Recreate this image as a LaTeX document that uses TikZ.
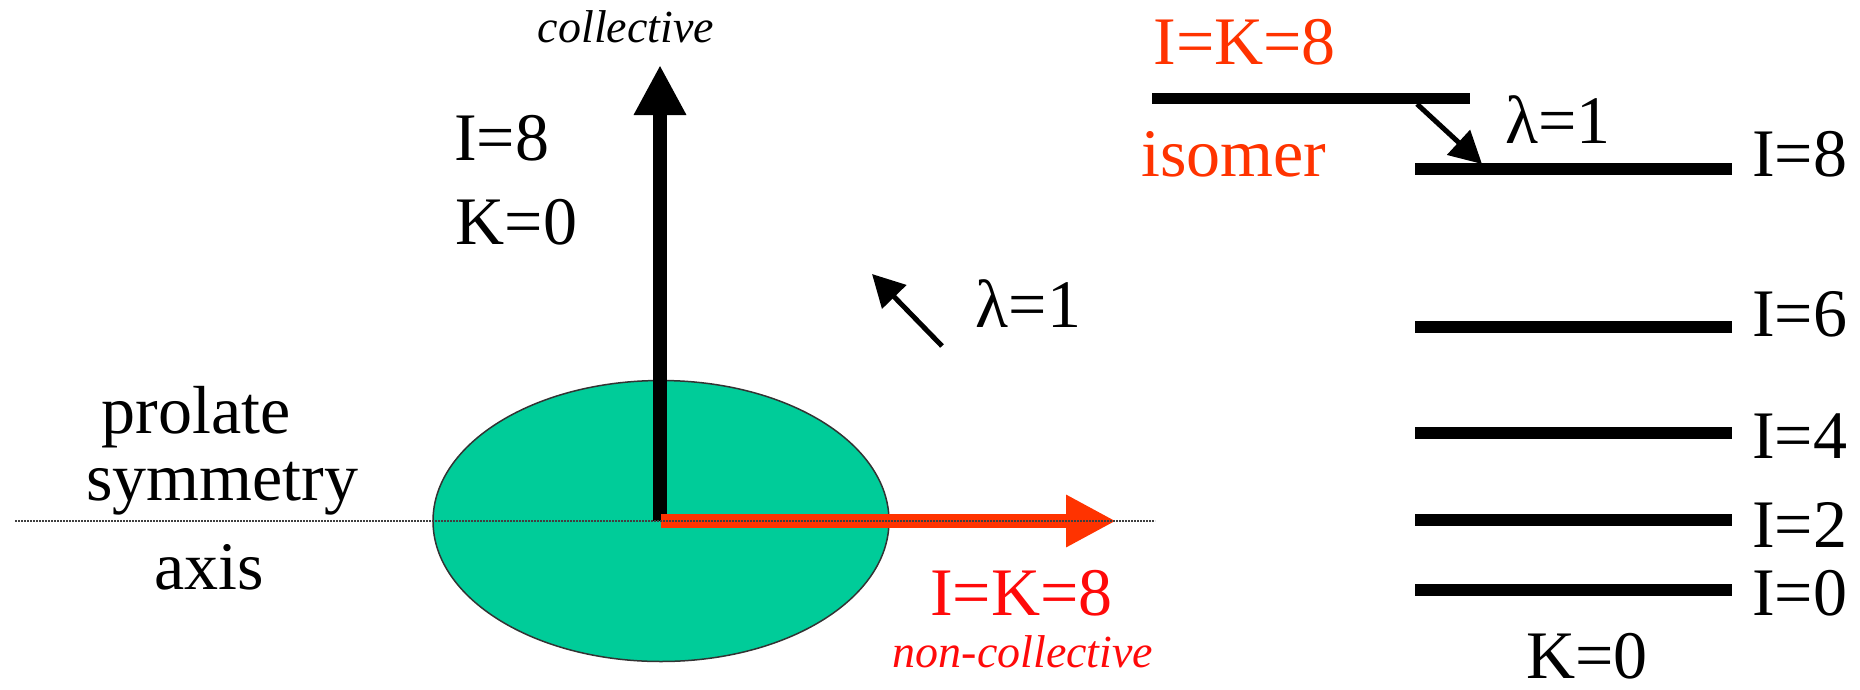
\documentclass[tikz,border=0pt]{standalone}
\usepackage{fontspec}
\setmainfont{Liberation Serif}
\newfontfamily\tnr{Liberation Serif}
\usetikzlibrary{arrows.meta,shapes.geometric}
\definecolor{ellgreen}{HTML}{00CC99}
\definecolor{orred}{HTML}{FF3300}
\definecolor{pured}{HTML}{FF0A0A}
\begin{document}
\begin{tikzpicture}[x=1pt,y=-1pt,
  lbl/.style={font=\tnr\fontsize{68}{72}\selectfont, inner sep=0pt, anchor=base},
  itl/.style={font=\tnr\fontsize{46}{50}\selectfont\itshape, inner sep=0pt, anchor=base},
  lev/.style={line width=11.5pt},
  bigarrow/.style={line width=14pt, -{Triangle[length=50pt,width=49pt]}},
  smallarrow/.style={line width=5pt, -{Triangle[length=32pt,width=33pt]}},
  axisline/.style={line width=1.4pt, black!75, dash pattern=on 1.6pt off 1.4pt}
]
\useasboundingbox (0,0) rectangle (1860,689);

% ellipse (nucleus)
\node[ellipse, draw=black!80, line width=1.5pt, fill=ellgreen,
      minimum width=456pt, minimum height=281pt, inner sep=0pt] (ell) at (661,521) {};

% arrows from the centre
\coordinate (O) at (661,521);
\coordinate (Ob) at (660,521);
\coordinate (vtip) at (660,65);
\coordinate (htip) at (1116,521);
\draw[bigarrow] (Ob) -- (vtip);
\draw[bigarrow, orred] (O) -- (htip);

% dotted symmetry axis
\coordinate (axL) at (15,521);
\coordinate (axR) at (1155,521);
\draw[axisline] (axL) -- (axR);

% small lambda arrow (left)
\coordinate (sa1) at (942,346);
\coordinate (sa2) at (872,274);
\draw[smallarrow] (sa1) -- (sa2);

% left texts
\node[itl] (coll) at (626,42) {collective};
\node[lbl] (i8l) at (501.5,160) {I=8};
\node[lbl] (k0l) at (516.5,244) {K=0};
\node[lbl] (lam1) at (1028.5,327) {λ=1};
\node[lbl] (prol) at (196,433) {prolate};
\node[lbl] (symm) at (222.5,500) {symmetry};
\node[lbl] (axis) at (209,589) {axis};
\node[lbl, text=pured] (ik8b) at (1021.5,615) {I=K=8};
\node[itl, text=pured] (ncoll) at (1023,667) {non-collective};

% right level scheme
\coordinate (isoL) at (1152,98.5);
\coordinate (isoR) at (1470,98.5);
\draw[lev] (isoL) -- (isoR);

\coordinate (l8a) at (1415,169);  \coordinate (l8b) at (1732,169);
\coordinate (l6a) at (1415,327);  \coordinate (l6b) at (1732,327);
\coordinate (l4a) at (1415,433);  \coordinate (l4b) at (1732,433);
\coordinate (l2a) at (1415,520);  \coordinate (l2b) at (1732,520);
\coordinate (l0a) at (1415,590);  \coordinate (l0b) at (1732,590);
\draw[lev] (l8a) -- (l8b);
\draw[lev] (l6a) -- (l6b);
\draw[lev] (l4a) -- (l4b);
\draw[lev] (l2a) -- (l2b);
\draw[lev] (l0a) -- (l0b);

\coordinate (d1) at (1417,104);
\coordinate (d2) at (1482,164);
\draw[smallarrow] (d1) -- (d2);

\node[lbl, text=orred] (ik8t) at (1244.7,64) {I=K=8};
\node[lbl, text=orred] (iso) at (1234,176) {isomer};
\node[lbl] (lam2) at (1558,143) {λ=1};
\node[lbl, anchor=base west] (r8) at (1752,176) {I=8};
\node[lbl, anchor=base west] (r6) at (1752,336) {I=6};
\node[lbl, anchor=base west] (r4) at (1752,458) {I=4};
\node[lbl, anchor=base west] (r2) at (1752,547) {I=2};
\node[lbl, anchor=base west] (r0) at (1752,615) {I=0};
\node[lbl] (k0r) at (1587,678) {K=0};
\end{tikzpicture}
\end{document}
